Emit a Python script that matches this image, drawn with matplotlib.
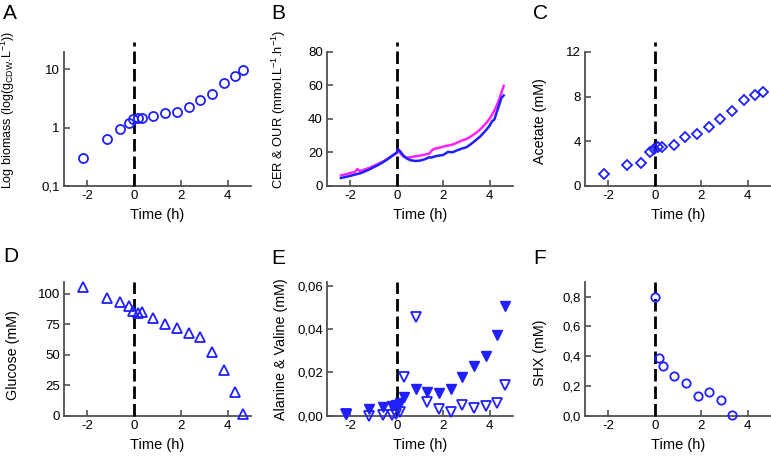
import numpy as np
import matplotlib
matplotlib.use("Agg")
import matplotlib.pyplot as plt
from matplotlib.ticker import FixedLocator, FixedFormatter

plt.rcParams['font.family'] = ['Liberation Sans', 'DejaVu Sans']
plt.rcParams['axes.unicode_minus'] = False
plt.rcParams['mathtext.fontset'] = 'custom'
plt.rcParams['mathtext.rm'] = 'Liberation Sans'
plt.rcParams['mathtext.it'] = 'Liberation Sans:italic'

# ---- data ----
t_samples = [-2.17, -1.18, -0.6, -0.2, -0.05, 0.15, 0.32, 0.82, 1.32, 1.83, 2.33, 2.82, 3.32, 3.83, 4.33, 4.66]
biomass = [0.30, 0.63, 0.96, 1.22, 1.41, 1.46, 1.46, 1.61, 1.75, 1.89, 2.28, 3.0, 3.78, 5.77, 7.75, 9.85]
acetate = [1.08, 1.9, 2.05, 3.06, 3.3, 3.5, 3.5, 3.66, 4.35, 4.62, 5.28, 6.0, 6.66, 7.65, 8.1, 8.4]
glucose = [105.5, 96.7, 93.7, 90.4, 86.0, 84.3, 84.9, 80.2, 75.5, 72.3, 68.1, 64.3, 52.5, 37.6, 19.2, 1.1]
alanine = [0.0009, 0.0029, 0.0038, 0.0043, 0.0048, 0.0058, 0.0085, 0.0124, 0.0108, 0.0104, 0.0122, 0.0181, 0.0228, 0.0278, 0.0375, 0.0507]
valine = [0.0006, 0.0, 0.0003, 0.0003, 0.0006, 0.0018, 0.018, 0.0457, 0.0065, 0.0030, 0.0019, 0.0051, 0.0037, 0.0045, 0.006, 0.0141]

t_shx = [0.0, 0.19, 0.36, 0.83, 1.34, 1.84, 2.35, 2.83, 3.34]
shx = [0.80, 0.39, 0.334, 0.269, 0.217, 0.132, 0.161, 0.103, 0.002]

t_gas = [-2.4, -2.2, -2.0, -1.8, -1.7, -1.6, -1.4, -1.2, -1.0, -0.8, -0.6, -0.4, -0.2, 0.0, 0.05,
         0.1, 0.2, 0.3, 0.4, 0.5, 0.6, 0.8, 1.0, 1.2, 1.4, 1.5, 1.6, 1.8, 2.0, 2.2, 2.4, 2.6, 2.8,
         3.0, 3.2, 3.4, 3.6, 3.8, 4.0, 4.1, 4.2, 4.3, 4.4, 4.5, 4.6]
our = [4.6, 5.2, 5.9, 6.6, 7.0, 7.3, 8.4, 9.6, 11.0, 12.4, 14.0, 15.8, 17.8, 19.8, 21.8,
       21.3, 19.6, 17.8, 16.6, 15.8, 15.2, 14.8, 15.0, 15.8, 17.0, 16.8, 17.4, 18.0, 18.4, 20.2, 20.0, 21.2, 22.2,
       23.0, 25.0, 27.2, 29.6, 32.6, 36.0, 38.6, 39.6, 44.0, 48.0, 52.5, 54.0]
cer = [6.2, 6.8, 7.6, 8.2, 10.0, 8.8, 9.6, 10.6, 11.8, 13.0, 14.4, 16.0, 18.0, 19.6, 21.2,
       20.4, 18.6, 17.4, 17.0, 16.8, 17.0, 17.6, 18.0, 18.6, 19.2, 21.0, 22.0, 22.6, 23.4, 24.0, 24.6, 25.8, 27.0,
       28.0, 29.6, 31.5, 33.8, 36.8, 40.2, 42.5, 45.0, 48.0, 51.5, 55.5, 59.8]

xticks = [-2, 0, 2, 4]
xticklabels = ['-2', '0', '2', '4']

BLUE = '#1f1fff'
MAG = '#ff22ff'
SPINE = '#505050'

W, H = 771, 463
fig = plt.figure(figsize=(W / 100, H / 100), dpi=100)

def axes_px(left, top, right, bottom):
    return fig.add_axes([left / W, 1 - bottom / H, (right - left) / W, (bottom - top) / H])

top_row = (52, 185.7)
bot_row = (281.7, 415.7)
cols = [(64, 251), (327, 513), (585, 771)]

axs = []
for (t0, b0) in [top_row, bot_row]:
    for (l0, r0) in cols:
        axs.append(axes_px(l0, t0, r0, b0))
axA, axB, axC, axD, axE, axF = axs

def style(ax, ylim, yticks, yticklabels, ylabel, lab_xy, log=False, labsize=10.3):
    for s in ['top', 'right']:
        ax.spines[s].set_visible(False)
    for s in ['left', 'bottom']:
        ax.spines[s].set_color(SPINE)
        ax.spines[s].set_linewidth(1.3)
    ax.set_xlim(-3, 5)
    if log:
        ax.set_yscale('log')
    ax.set_ylim(*ylim)
    ax.set_xticks(xticks)
    ax.set_xticklabels(xticklabels)
    ax.yaxis.set_major_locator(FixedLocator(yticks))
    ax.yaxis.set_major_formatter(FixedFormatter(yticklabels))
    ax.yaxis.set_minor_locator(FixedLocator([]))
    ax.tick_params(direction='in', length=4, width=1.2, color=SPINE, labelsize=9.5, pad=3)
    ax.set_xlabel('Time (h)', fontsize=10.5, labelpad=4.5)
    ax.set_ylabel(ylabel, fontsize=labsize)
    ax.yaxis.set_label_coords(*lab_xy)
    ax.set_facecolor('none')

def vline(ax, ymin, ymax):
    ax.plot([0, 0], [ymin, ymax], color='black', lw=2.0, linestyle=(0, (4.5, 1.8)),
            clip_on=False, zorder=3)

mk = dict(linestyle='none', markerfacecolor='none', markeredgecolor=BLUE, markeredgewidth=1.3,
          zorder=4, clip_on=False)

# A
style(axA, (0.1, 20), [0.1, 1, 10], ['0,1', '1', '10'],
      'Log biomass (log(g$_\\mathregular{CDW}$.L$^\\mathregular{-1}$))', (-0.251, 0.57), log=True,
      labsize=9.0)
vline(axA, 0.1, 30.0)
axA.plot(t_samples, biomass, marker='o', markersize=6.5, **mk)

# B
style(axB, (0, 80), [0, 20, 40, 60, 80], ['0', '20', '40', '60', '80'],
      'CER & OUR (mmol.L$^\\mathregular{-1}$.h$^\\mathregular{-1}$)', (-0.21, 0.57), labsize=9.3)
vline(axB, 0, 86)
axB.plot(t_gas, cer, color=MAG, lw=1.8, zorder=4)
axB.plot(t_gas, our, color=BLUE, lw=1.8, zorder=5)

# C
style(axC, (0, 12), [0, 4, 8, 12], ['0', '4', '8', '12'], 'Acetate (mM)', (-0.204, 0.48))
vline(axC, 0, 12.9)
axC.plot(t_samples, acetate, marker='D', markersize=5.5, **mk)

# D
style(axD, (0, 110), [0, 25, 50, 75, 100], ['0', '25', '50', '75', '100'], 'Glucose (mM)', (-0.235, 0.45))
vline(axD, 0, 110)
axD.plot(t_samples, glucose, marker='^', markersize=6.5, **mk)

# E
style(axE, (0, 0.062), [0, 0.02, 0.04, 0.06], ['0,00', '0,02', '0,04', '0,06'],
      'Alanine & Valine (mM)', (-0.21, 0.50))
vline(axE, 0, 0.062)
axE.plot(t_samples, valine, marker='v', markersize=6.5, **mk)
axE.plot(t_samples, alanine, marker='v', markersize=6.5, linestyle='none', color=BLUE,
         markeredgecolor=BLUE, markeredgewidth=1.0, zorder=4, clip_on=False)

# F
style(axF, (0, 0.9), [0, 0.2, 0.4, 0.6, 0.8], ['0,0', '0,2', '0,4', '0,6', '0,8'], 'SHX (mM)', (-0.204, 0.47))
vline(axF, 0, 0.9)
axF.plot(t_shx, shx, marker='o', markersize=6.0, **mk)

for lab, x, y in [('A', 3, 4), ('B', 271, 4), ('C', 533, 4), ('D', 3, 247), ('E', 271, 249), ('F', 533, 249)]:
    fig.text(x / W, 1 - y / H, lab, fontsize=15, va='top', ha='left')

fig.savefig('out.png', dpi=100)
